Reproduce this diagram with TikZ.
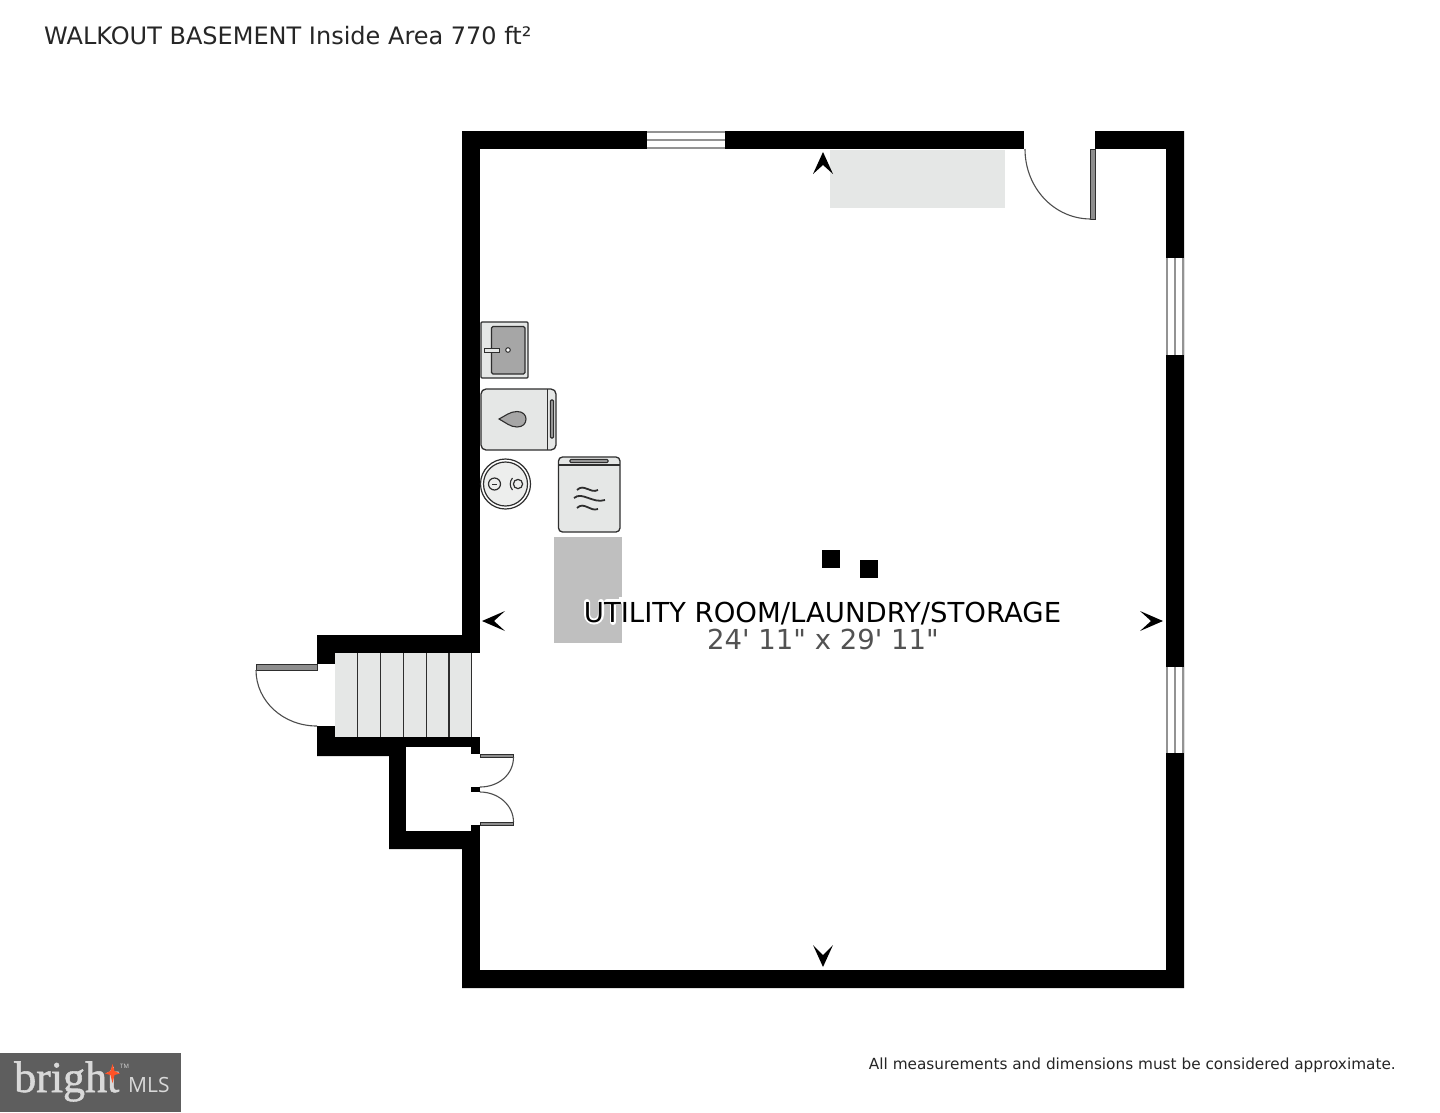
\documentclass[tikz,border=0pt]{standalone}
\usepackage{fontspec}
\setmainfont{DejaVu Sans}
\newfontfamily\plainfont{DejaVu Sans}
\newfontfamily\logoserif[FakeBold=1.2]{Liberation Serif}
\newfontfamily\logosans{Open Sans}
\definecolor{fixfill}{HTML}{E5E7E6}
\definecolor{fixline}{HTML}{2E2E2E}
\definecolor{midgrey}{HTML}{A6A6A6}
\definecolor{glassgrey}{HTML}{939393}
\definecolor{leafgrey}{HTML}{8E8E8E}
\definecolor{counter}{HTML}{BFBFBF}
\definecolor{logogrey}{HTML}{5E5E5E}
\definecolor{logotext}{HTML}{D9D9D9}
\tikzset{
  wall/.style={fill=black,draw=none},
  hole/.style={fill=white,draw=none},
  glass/.style={draw=glassgrey,line width=1.8pt},
  fixture/.style={draw=fixline,fill=fixfill,line width=1.3pt},
  darkpart/.style={draw=fixline,fill=midgrey,line width=1.1pt},
  leaf/.style={draw=fixline,fill=leafgrey,line width=0.5pt},
  swing/.style={draw=fixline!85,line width=1.1pt},
  tread/.style={draw=fixline,line width=1.2pt},
  label/.style={inner sep=0pt,anchor=base},
  halo/.style={draw=white,line width=6pt,line cap=round},
  wave/.style={draw=fixline,line width=1.8pt}
}
\begin{document}
\begin{tikzpicture}[x=1pt,y=-1pt]
\useasboundingbox (0,0) rectangle (1440,1112);
\fill[white] (0,0) rectangle (1440,1112);
% walls
\path[wall] (462,131) -- (1184,131) -- (1184,988) -- (462,988) -- (462,849) -- (389,849) -- (389,756) -- (317,756) -- (317,635) -- (462,635) -- cycle;
\path[hole] (480,149) rectangle (1166,970);
\path[wall] (462,737) rectangle (480,754);
\path[wall] (471,787) rectangle (480,792);
\path[wall] (471,825) rectangle (480,849);
\path[wall] (462,849) rectangle (480,970);
\path[hole] (335,653) rectangle (480,737);
\path[hole] (406,747) rectangle (471,831);
\path[hole] (471,754) rectangle (480,787);
\path[hole] (471,792) rectangle (480,825);
\path[hole] (317,664) rectangle (335,726);
\path[hole] (1024,130) rectangle (1095,149);
% stairs
\fill[fixfill] (335,653) rectangle (472,737);
\foreach \tx in {357.5,380.5,403.5,426.5,449,471.5}
  \draw[tread] (\tx,653) -- (\tx,737);
% windows
\path[hole] (647,131) rectangle (725,149);
\draw[glass] (647,131.8) -- (725,131.8) (647,140) -- (725,140) (647,148.2) -- (725,148.2);
\path[hole] (1166,258) rectangle (1184,355);
\draw[glass] (1166.8,258) -- (1166.8,355) (1175,258) -- (1175,355) (1183.2,258) -- (1183.2,355);
\path[hole] (1166,667) rectangle (1184,753);
\draw[glass] (1166.8,667) -- (1166.8,753) (1175,667) -- (1175,753) (1183.2,667) -- (1183.2,753);
% doors
\path[leaf] (1090,149) rectangle (1095,219);
\draw[swing] (1025,149) .. controls (1025,187.7) and (1054,219) .. (1091,219);
\path[leaf] (256,664) rectangle (317,670);
\draw[swing] (256,670) .. controls (256,701) and (283,726) .. (317,726);
\path[leaf] (480,754) rectangle (513.5,757);
\draw[swing] (513.5,757) .. controls (513.5,775) and (498,787) .. (480,787);
\path[leaf] (480,822) rectangle (513.5,825);
\draw[swing] (513.5,822) .. controls (513.5,805) and (498,792) .. (480,792);
% grey areas
\fill[fixfill] (830,150) rectangle (1005,208);
\fill[counter] (554,537) rectangle (622,643);
% columns
\fill[black] (822,550) rectangle (840,568);
\fill[black] (860,560) rectangle (878,578);
% sink
\draw[fixture,rounded corners=1pt] (481,322) rectangle (528,378);
\draw[darkpart,rounded corners=1.5pt] (491.5,326.5) rectangle (525,374);
\draw[fixline,fill=fixfill,line width=0.9pt] (484,348) rectangle (499.5,352);
\draw[fixline,fill=white,line width=1pt] (508,350) circle[radius=2.3];
% heater
\draw[fixture,rounded corners=5pt] (481,389) rectangle (556,450);
\draw[fixline,line width=1.3pt] (547.5,389) -- (547.5,450);
\draw[darkpart,rounded corners=1pt] (550.5,400) rectangle (553.5,438);
\draw[darkpart] (499,419) .. controls (505,416) and (510,411.5) .. (517,411.5) .. controls (523,411.5) and (526,415) .. (526,419) .. controls (526,423.5) and (523,427) .. (517,427) .. controls (510,427) and (505,422) .. (499,419) -- cycle;
% round tank
\draw[fixline,fill=white,line width=1.2pt] (505.5,484) circle[radius=25];
\draw[fixline,fill=fixfill!70!white,line width=1.2pt] (505.5,484) circle[radius=22];
\draw[fixline,line width=1.2pt] (494.5,484) circle[radius=6];
\draw[fixline,line width=1pt] (492,484) -- (497,484);
\draw[fixline,line width=1.2pt] (518,484) circle[radius=4.6];
\draw[fixline,line width=1.1pt] (512.5,478) .. controls (509.5,481) and (509.5,487) .. (512.5,490);
% washer
\draw[fixture,rounded corners=4pt] (558.5,457) rectangle (620,532);
\draw[fixline,line width=1.2pt] (558.5,465) -- (620,465);
\draw[darkpart,rounded corners=0.8pt] (570,459.5) rectangle (608,462.5);
\draw[wave] (577,490) .. controls (584,483) and (590,494) .. (598,490);
\draw[wave] (574,498) .. controls (582,491) and (593,504) .. (605,500);
\draw[wave] (577,508) .. controls (584,501) and (590,512) .. (598,509);
% direction marks
\fill[black] (823,152) -- (833,174) -- (823,165) -- (813,174) -- cycle;
\fill[black] (823,967) -- (833,945) -- (823,955) -- (813,945) -- cycle;
\fill[black] (482,621) -- (505,611) -- (494,621) -- (505,631) -- cycle;
\fill[black] (1163,621) -- (1140,611) -- (1151,621) -- (1140,631) -- cycle;
% halo behind the first letters
\draw[halo] (587,602) -- (587,614) .. controls (587,624) and (601,624) .. (601,614) -- (601,602);
\draw[halo] (607,602) -- (619,602) (613,602) -- (613,622);
\draw[halo,line cap=butt] (619,600) -- (622,600);
% texts
\node[label,anchor=base west,font=\fontsize{24}{28}\selectfont,text=black!85] (title) at (44,44) {WALKOUT BASEMENT Inside Area 770 ft²};
\node[label,font=\fontsize{27.5}{32}\selectfont,text=black] (room) at (822.5,622) {UTILITY ROOM/LAUNDRY/STORAGE};
\node[label,font=\plainfont\fontsize{27.5}{32}\selectfont,text=black!68] (dims) at (823,649) {24' 11" x 29' 11"};
\node[label,anchor=base east,font=\fontsize{15.3}{20}\selectfont,text=black!85] (note) at (1396,1069) {All measurements and dimensions must be considered approximate.};
% logo
\fill[logogrey] (0,1053) rectangle (181,1112);
\node[label,anchor=base west,font=\logoserif\fontsize{44}{48}\selectfont,text=logotext] (brand) at (14,1092) {bright};
\fill[red!60!orange!85!white] (112.5,1064) -- (114.5,1071) -- (120,1073.5) -- (114.5,1075) -- (112.5,1083) -- (110.5,1075) -- (105,1073.5) -- (110.5,1071) -- cycle;
\node[label,anchor=base west,font=\logosans\fontsize{6}{7}\selectfont,text=logotext] (tm) at (120,1068) {TM};
\node[label,anchor=base west,font=\logosans\fontsize{21}{24}\selectfont,text=logotext] (mls) at (128,1092) {MLS};
\end{tikzpicture}
\end{document}
